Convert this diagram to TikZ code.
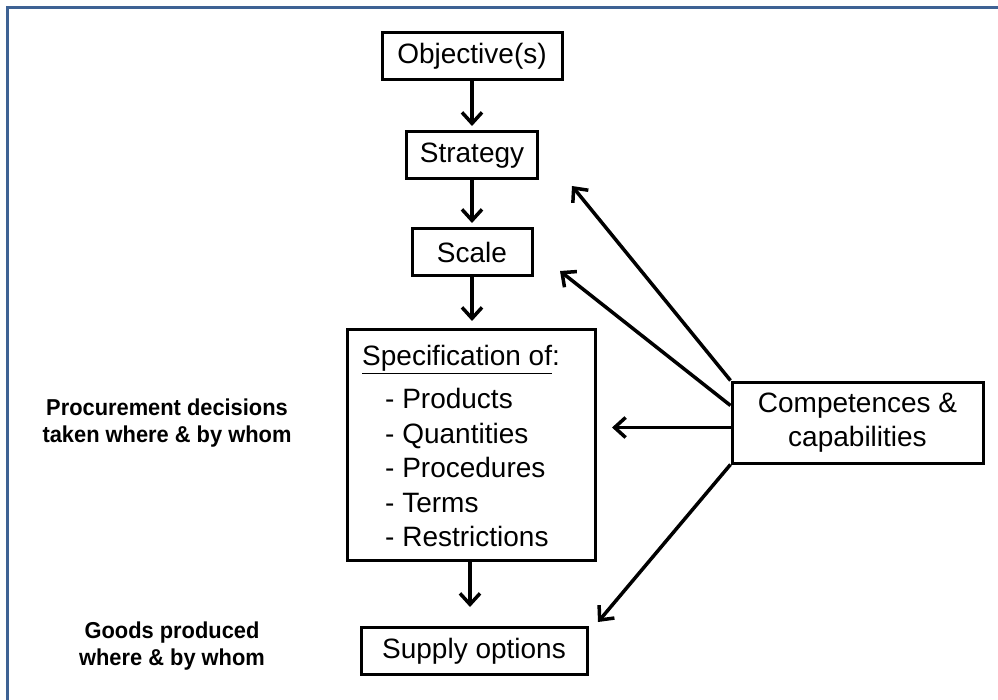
\documentclass[tikz,border=0pt]{standalone}
\usepackage{fontspec}
\setmainfont{Liberation Sans}
\newfontfamily\labelfont[FakeStretch=0.95]{Liberation Sans}
\usetikzlibrary{arrows.meta}
\definecolor{frameblue}{RGB}{62,98,148}
\begin{document}
\begin{tikzpicture}[x=1pt,y=-1pt,
  box/.style={draw=black, line width=3pt, font=\fontsize{28}{34}\selectfont,
    inner sep=0pt, minimum height=47pt},
  flow/.style={line width=3.5pt, -{Straight Barb[length=11pt,width=20pt]}},
  side/.style={font=\labelfont\bfseries\fontsize{23}{27}\selectfont, align=center}]
\useasboundingbox (0,0) rectangle (998,700);
% frame
\draw[frameblue, line width=3pt] (7.5,700) -- (7.5,7.5) -- (998,7.5);

% main column
\node[box, minimum width=180pt] (obj) at (472,56.5) {Objective(s)};
\node[box, minimum width=131pt] (strat) at (472,155.5) {Strategy};
\node[box, minimum width=120pt] (scale) at (472,252.5) {Scale};
\node[box, minimum width=248pt, minimum height=230pt] (spec) at (471,445) {};
\node[anchor=north west, inner sep=0pt, align=left,
  font=\fontsize{28}{34.5}\selectfont] (spectext) at (362,345)
  {\underline{Specification of}:\\[9pt]
   \hspace*{23pt}- Products\\
   \hspace*{23pt}- Quantities\\
   \hspace*{23pt}- Procedures\\
   \hspace*{23pt}- Terms\\
   \hspace*{23pt}- Restrictions};
\node[box, minimum width=226pt] (supply) at (474,651) {Supply options};
\node[box, minimum width=251pt, minimum height=81pt, align=center,
  font=\fontsize{28}{34}\selectfont] (comp) at (857.5,422.5)
  {Competences \&\\capabilities};

% side labels
\node[side] (proc) at (167,423) {Procurement decisions\\taken where \& by whom};
\node[side] (goods) at (172,646) {Goods produced\\where \& by whom};

% arrow tips
\coordinate (t1) at (472,126);
\coordinate (t2) at (472,223);
\coordinate (t3) at (472,321);
\coordinate (t4) at (470,607);
\coordinate (t5) at (572,186);
\coordinate (t6) at (560,271);
\coordinate (t7) at (612,427.5);
\coordinate (t8) at (598,622);

% connectors
\draw[flow] (obj) -- (t1);
\draw[flow] (strat) -- (t2);
\draw[flow] (scale) -- (t3);
\draw[flow] (spec.south -| t4) -- (t4);
\draw[flow] (comp.north west) -- (t5);
\draw[flow] ([yshift=17pt]comp.west) -- (t6);
\draw[flow] (t7 -| comp.west) -- (t7);
\draw[flow] (comp.south west) -- (t8);
\end{tikzpicture}
\end{document}
